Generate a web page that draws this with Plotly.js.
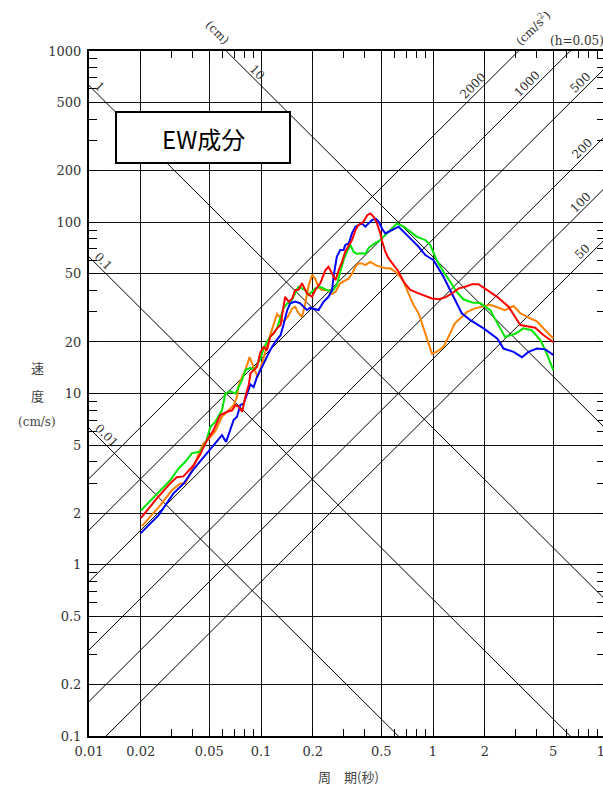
<!DOCTYPE html>
<html><head><meta charset="utf-8">
<script src="https://cdn.plot.ly/plotly-3.0.1.min.js"></script>
<style>html,body{margin:0;padding:0;overflow:hidden;background:#fff}</style>
</head><body><div id="chart" style="width:640px;height:787px"></div>
<script>
// ---- data ----
const redT = [0.02,0.0248,0.0296,0.0324,0.0354,0.0402,0.0443,0.0485,0.053,0.058,0.0636,0.0679,0.071,0.0743,0.0777,0.0811,0.085,0.0868,0.0906,0.0948,0.0993,0.1036,0.1083,0.113,0.118,0.124,0.130,0.135,0.138,0.145,0.152,0.158,0.165,0.173,0.185,0.198,0.207,0.221,0.237,0.247,0.259,0.271,0.283,0.296,0.309,0.324,0.338,0.354,0.368,0.394,0.415,0.432,0.452,0.472,0.494,0.505,0.528,0.552,0.590,0.631,0.675,0.738,0.825,0.902,0.986,1.08,1.18,1.29,1.41,1.54,1.69,1.84,2.01,2.36,2.75,3.22,3.52,3.93,4.40,5.0];
const redV = [1.87,2.44,2.98,3.24,3.28,3.77,4.4,5.34,6.11,7.48,7.82,7.98,8.55,8.36,7.82,9.57,11.3,13.1,13.7,14.3,17.5,18.7,17.9,21.4,22.4,24.0,25.1,32.1,36.7,34.3,35.9,40.2,40.2,44.0,38.4,36.7,40.2,44.0,52.6,55.0,50.3,45.9,52.6,58.7,67.3,73.6,78.7,90.0,96.0,100.7,110,112.6,107.7,98.6,86.1,78,67.3,61.5,56.2,51.4,44.9,40.2,38.4,37.0,35.9,35.5,36.4,38.4,41.1,42.0,43.5,43.5,41.1,36.7,32.1,25.1,24.7,24.2,21.9,20.0];

const blueT = [0.02,0.0254,0.031,0.0355,0.0405,0.0485,0.0542,0.0593,0.0627,0.0693,0.0725,0.0758,0.0794,0.0829,0.0868,0.0906,0.0948,0.0993,0.106,0.113,0.121,0.130,0.135,0.142,0.148,0.158,0.169,0.185,0.193,0.216,0.231,0.247,0.259,0.264,0.276,0.289,0.302,0.309,0.324,0.338,0.354,0.368,0.386,0.404,0.422,0.442,0.464,0.483,0.505,0.528,0.552,0.578,0.604,0.631,0.738,0.825,0.902,1.008,1.15,1.32,1.47,1.65,1.97,2.36,2.57,2.94,3.29,3.59,4.02,4.50,5.0];
const blueV = [1.53,1.95,2.61,2.98,3.6,4.49,5.11,5.71,5.22,7.0,7.31,8.55,8.77,10.0,11.3,10.9,12.5,13.7,15.7,17.9,20.0,21.9,25.1,30.7,33.6,34.4,33.6,30.7,31.6,30.7,34.3,36.7,40.2,48.1,63.0,68.9,68.9,73.6,75.3,86.1,94.2,96.0,98.6,94.2,98.6,103,105,101,92,86,88,89.9,92,94.2,80.5,71.9,64.3,60.1,48.1,36.7,29.4,26.8,24.0,21.0,18.3,17.5,16.3,17.5,18.3,18.1,16.8];

const greenT = [0.02,0.0254,0.0297,0.0332,0.0363,0.0397,0.0443,0.0476,0.0508,0.0542,0.0593,0.062,0.0662,0.071,0.0743,0.0777,0.0811,0.0868,0.0906,0.0948,0.0993,0.1036,0.1083,0.113,0.118,0.124,0.130,0.135,0.142,0.148,0.158,0.165,0.173,0.181,0.189,0.207,0.221,0.242,0.259,0.276,0.289,0.302,0.316,0.331,0.346,0.361,0.386,0.404,0.422,0.452,0.494,0.541,0.578,0.617,0.675,0.738,0.808,0.902,0.964,1.05,1.15,1.26,1.37,1.50,1.69,1.88,2.15,2.46,2.62,3.03,3.35,3.75,4.21,4.59,5.0];
const greenV = [2.07,2.67,3.12,3.65,3.99,4.49,4.57,5.11,6.39,6.83,7.98,10.0,10.3,10.0,10.9,12.0,13.7,14.1,13.7,14.6,16.0,18.3,20.0,21.4,22.4,24.0,28.0,31.4,33.6,33.6,38.4,42.0,41.1,40.2,37.6,41.1,42.0,40.2,39.5,43.0,51.2,60.1,67.3,73.6,67.0,65.4,65.9,65.4,70.7,74.6,78.7,86.1,91.2,98.3,94.2,88.0,82.2,78.7,73.6,60.1,51.4,44.9,39.3,35.5,34.0,33.8,30.7,24.0,21.4,22.4,24.0,23.4,20.5,17.1,13.7];

const orangeT = [0.0203,0.026,0.0304,0.0339,0.0363,0.0405,0.0443,0.0464,0.0496,0.0542,0.0593,0.0648,0.0693,0.0725,0.0743,0.0777,0.0811,0.0858,0.0906,0.0955,0.0993,0.1036,0.1083,0.113,0.118,0.124,0.130,0.135,0.143,0.152,0.158,0.165,0.173,0.181,0.189,0.198,0.207,0.216,0.226,0.242,0.259,0.271,0.289,0.309,0.324,0.338,0.354,0.368,0.386,0.404,0.432,0.464,0.494,0.528,0.564,0.604,0.645,0.675,0.720,0.772,0.825,0.882,0.942,0.986,1.05,1.15,1.23,1.34,1.47,1.58,1.76,1.97,2.15,2.36,2.62,2.94,3.22,3.66,4.02,4.50,5.0];
const orangeV = [1.68,2.23,2.73,2.98,2.98,3.73,4.67,5.11,5.4,6.03,7.31,7.98,8.55,9.53,11.3,12.5,13.7,16.3,14.3,12.5,14.1,16.0,19.2,21.9,25.1,29.1,27.6,26.3,28.0,31.4,32.1,29.5,28.0,33.8,42.4,49.2,46.6,41.8,40.2,40.2,38.1,39.2,44.0,45.9,47.0,50.2,55.0,57.5,57.5,56.2,58.7,56.2,55.0,53.8,53.8,51.4,48.1,44.9,38.4,32.8,29.4,24.0,19.6,17.1,17.5,18.7,21.4,25.7,28.0,30.0,31.4,32.4,33.0,31.9,30.7,32.4,29.4,27.5,26.4,23.4,21.0];

// tripartite reference levels
const dispLevels = [0.01, 0.1, 1, 10];          // cm
const dispLabels = ['0.01', '0.1', '1', '10'];
const accLevels = [50, 100, 200, 500, 1000, 2000]; // cm/s^2
const accLabels = ['50', '100', '200', '500', '1000', '2000'];

// axis ticks
const xTicks = [0.01, 0.02, 0.05, 0.1, 0.2, 0.5, 1, 2, 5, 10];
const xTickText = ['0.01', '0.02', '0.05', '0.1', '0.2', '0.5', '1', '2', '5', '10'];
const yTicks = [0.1, 0.2, 0.5, 1, 2, 5, 10, 20, 50, 100, 200, 500, 1000];
const yTickText = ['0.1', '0.2', '0.5', '1', '2', '5', '10', '20', '50', '100', '200', '500', '1000'];
const minorMult = [3, 4, 6, 7, 8, 9];

// ---- layout helpers ----
const W = 640, H = 787, ML = 89, MR = 35, MT = 51, MB = 51;
const PW = W - ML - MR, PH = H - MT - MB;
const twoPi = 2 * Math.PI;
function pxToT(px) { return Math.pow(10, -2 + 3 * (px - ML) / PW); }
function tPaper(T) { return (Math.log10(T) + 2) / 3; }
function vPaper(V) { return (Math.log10(V) + 1) / 4; }
function pxX(px) { return (px - ML) / PW; }
function pxY(py) { return (H - MB - py) / PH; }

const minorX = [], minorY = [];
[0.01, 0.1, 1].forEach(d => minorMult.forEach(m => minorX.push(+(d * m).toPrecision(3))));
[0.1, 1, 10, 100].forEach(d => minorMult.forEach(m => minorY.push(+(d * m).toPrecision(3))));

const traces = [];
const Tlo = 0.001, Thi = 100;
dispLevels.forEach(D => traces.push({x: [Tlo, Thi], y: [twoPi * D / Tlo, twoPi * D / Thi], mode: 'lines', line: {color: '#000', width: 1}, hoverinfo: 'skip', showlegend: false}));
accLevels.forEach(A => traces.push({x: [Tlo, Thi], y: [A * Tlo / twoPi, A * Thi / twoPi], mode: 'lines', line: {color: '#000', width: 1}, hoverinfo: 'skip', showlegend: false}));

const series = [
  {T: orangeT, V: orangeV, c: '#ff8000'},
  {T: greenT, V: greenV, c: '#00e600'},
  {T: blueT, V: blueV, c: '#0000ff'},
  {T: redT, V: redV, c: '#ff0000'}
];
series.forEach(s => traces.push({x: s.T, y: s.V, mode: 'lines', line: {color: s.c, width: 2}, showlegend: false}));

const serif = '"DejaVu Serif", serif';
const cjk = '"Noto Sans CJK JP", sans-serif';
const annotations = [];
function ann(o) {
  annotations.push(Object.assign({xref: 'paper', yref: 'paper', xanchor: 'center', yanchor: 'middle', showarrow: false}, o));
}
// displacement labels (line point pixel x per label)
const dispLabelPx = [102, 98, 95, 252];
dispLevels.forEach((D, i) => {
  const T = pxToT(dispLabelPx[i]);
  ann({x: tPaper(T), y: vPaper(twoPi * D / T), text: dispLabels[i], textangle: 45, xshift: 5, yshift: 5, font: {family: serif, size: 12, color: '#333'}});
});
{
  const T = pxToT(212);
  ann({x: tPaper(T), y: vPaper(twoPi * 10 / T), text: '(cm)', textangle: 45, xshift: 5, yshift: 5, font: {family: serif, size: 12, color: '#333'}});
}
const accLabelPx = [587, 585, 587, 585, 532, 478];
accLevels.forEach((A, i) => {
  const T = pxToT(accLabelPx[i]);
  ann({x: tPaper(T), y: vPaper(A * T / twoPi), text: accLabels[i], textangle: -45, xshift: -5, yshift: 5, font: {family: serif, size: 12, color: '#333'}});
});
{
  const T = pxToT(537);
  ann({x: tPaper(T), y: vPaper(2000 * T / twoPi), text: '(cm/s<sup>2</sup>)', textangle: -45, xshift: -5, yshift: 5, font: {family: serif, size: 12, color: '#333'}});
}
ann({x: pxX(548), y: pxY(41), xanchor: 'left', text: '(h=0.05)', font: {family: serif, size: 12, color: '#333'}});
// axis titles
ann({x: pxX(37), y: pxY(367), text: '速', font: {family: cjk, size: 13, color: '#444'}});
ann({x: pxX(37), y: pxY(395), text: '度', font: {family: cjk, size: 13, color: '#444'}});
ann({x: pxX(37), y: pxY(422), text: '(cm/s)', font: {family: serif, size: 12, color: '#444'}});
ann({x: pxX(348), y: pxY(776), text: '周　期(秒)', font: {family: cjk, size: 13, color: '#444'}});
// title box text
ann({x: pxX(203), y: pxY(138), text: 'EW成分', font: {family: cjk, size: 24, color: '#000'}});

const shapes = [{type: 'rect', xref: 'paper', yref: 'paper', x0: pxX(116), x1: pxX(290), y0: pxY(163), y1: pxY(112), fillcolor: '#fff', line: {color: '#000', width: 2}, layer: 'above'}];

const axisCommon = {
  type: 'log', showline: true, linecolor: '#000', linewidth: 2, mirror: 'allticks',
  showgrid: true, gridcolor: '#111', gridwidth: 1, zeroline: false,
  ticks: 'inside', ticklen: 8, tickcolor: '#000', tickwidth: 1,
  tickfont: {family: serif, size: 13, color: '#333'}, tickmode: 'array'
};
const layout = {
  width: W, height: H,
  margin: {l: ML, r: MR, t: MT, b: MB, pad: 0},
  paper_bgcolor: '#fff', plot_bgcolor: '#fff',
  showlegend: false,
  xaxis: Object.assign({}, axisCommon, {range: [-2, 1], tickvals: xTicks, ticktext: xTickText, ticklabelstandoff: 2,
    minor: {tickmode: 'array', tickvals: minorX, ticks: 'inside', ticklen: 7, tickcolor: '#000', showgrid: false}}),
  yaxis: Object.assign({}, axisCommon, {range: [-1, 3], tickvals: yTicks, ticktext: yTickText, ticklabelstandoff: 3,
    minor: {tickmode: 'array', tickvals: minorY, ticks: 'inside', ticklen: 8, tickcolor: '#000', showgrid: false}}),
  annotations: annotations,
  shapes: shapes
};
Plotly.newPlot('chart', traces, layout, {staticPlot: true});
</script></body></html>
